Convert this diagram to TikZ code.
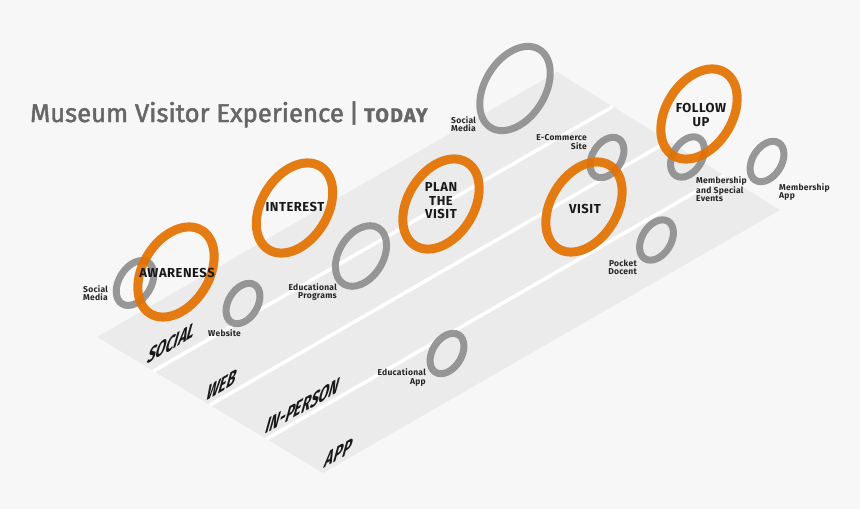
\documentclass[tikz,border=0pt]{standalone}
\usepackage{fontspec}
\setmainfont{Fira Sans}
\newfontfamily\titlefont[FakeBold=1.8]{Fira Sans}
\usepackage{tikz}
\usetikzlibrary{calc,shapes.geometric}

\definecolor{VisitOrange}{HTML}{E37200}
\definecolor{RingGray}{HTML}{8A8A8A}
\definecolor{LaneGray}{HTML}{EBEBEB}
\definecolor{PageGray}{HTML}{F7F7F7}
\definecolor{TitleGray}{HTML}{666666}

\tikzset{
  ring/.style={ellipse,draw,inner sep=0pt,rotate=58},
  stagering/.style={ring,draw=VisitOrange,line width=9pt,draw opacity=0.92},
  channelring/.style={ring,draw=RingGray,line width=7pt,draw opacity=0.88},
  stagelabel/.style={font=\bfseries\fontsize{13}{13.5}\selectfont\addfontfeatures{LetterSpace=4},align=center,text=black!90},
  channellabel/.style={font=\bfseries\fontsize{8.5}{8.2}\selectfont\addfontfeatures{LetterSpace=3},text=black!85,inner sep=0pt},
  lanelabel/.style={font=\bfseries\fontsize{18}{18}\selectfont,text=black!90,cm={0.8,0.46,0.36,1.3,(0,0)}}
}

\begin{document}
\begin{tikzpicture}[x=1pt,y=-1pt]
    \fill[PageGray] (0,0) rectangle (860,509);

    \node[anchor=base west,inner sep=0pt,text=TitleGray,font=\titlefont\fontsize{25.7}{30}\selectfont] (title) at (30,122)
      {Museum Visitor Experience\hspace{5pt}|\hspace{5pt}{\bfseries\fontsize{19.5}{22}\selectfont\addfontfeatures{LetterSpace=7}TODAY}};

    \coordinate (laneL) at (97,337);
    \coordinate (laneT) at (557,72);
    \coordinate (laneR) at (780,210);
    \coordinate (laneB) at (323,473);
    \fill[LaneGray] (laneL) -- (laneT) -- (laneR) -- (laneB) -- cycle;
    \foreach \t in {0.25,0.5,0.75}
      \draw[white,line width=3.5pt] ($(laneL)!\t!(laneB)$) -- ($(laneT)!\t!(laneR)$);

    \node[lanelabel] (social) at (172,343) {SOCIAL};
    \node[lanelabel] (web) at (222,385) {WEB};
    \node[lanelabel] (inperson) at (303,406) {IN-PERSON};
    \node[lanelabel] (app) at (339,453) {APP};

    \foreach \name/\x/\y/\w/\h in {
      socialleft/135/283/49/32,website/243/303.5/44/29,eduprog/361/256/66/44,
      socialtop/515/88.5/92/60,ecommerce/607/157.5/44/29,membership/687.5/157/44/29,
      memberapp/767/161.5/44/29,pocket/656.5/240/44/29,eduapp/447/353.5/44/29}{%
      \node[channelring,minimum width=\w pt,minimum height=\h pt] (\name) at (\x,\y) {};
    }
    \foreach \name/\x/\y in {
      awareness/176/272,interest/294.5/208,plan/441/204,visit/584/207,followup/699/114}{%
      \node[stagering,minimum width=98pt,minimum height=66pt] (\name) at (\x,\y) {};
    }

    \node[stagelabel] (awarenesstext) at (177,273) {AWARENESS};
    \node[stagelabel] (interesttext) at (295,207) {INTEREST};
    \node[stagelabel] (plantext) at (441,201) {PLAN\\THE\\VISIT};
    \node[stagelabel] (visittext) at (585,209) {VISIT};
    \node[stagelabel] (followuptext) at (701,115) {FOLLOW\\UP};

    \node[channellabel,anchor=west,align=left] (sociallefttext) at (83,293.5) {Social\\Media};
    \node[channellabel,anchor=west] (websitetext) at (208,333) {Website};
    \node[channellabel,anchor=east,align=right] (eduprogtext) at (337,292) {Educational\\Programs};
    \node[channellabel,anchor=west,align=left] (socialtoptext) at (451,124) {Social\\Media};
    \node[channellabel,anchor=east,align=right] (ecommercetext) at (587,142) {E-Commerce\\Site};
    \node[channellabel,anchor=west,align=left] (membershiptext) at (696,189) {Membership\\and Special\\Events};
    \node[channellabel,anchor=west,align=left] (memberapptext) at (779,192) {Membership\\App};
    \node[channellabel,anchor=east,align=right] (pockettext) at (637,267) {Pocket\\Docent};
    \node[channellabel,anchor=east,align=right] (eduapptext) at (426,377.5) {Educational\\App};
\end{tikzpicture}
\end{document}
